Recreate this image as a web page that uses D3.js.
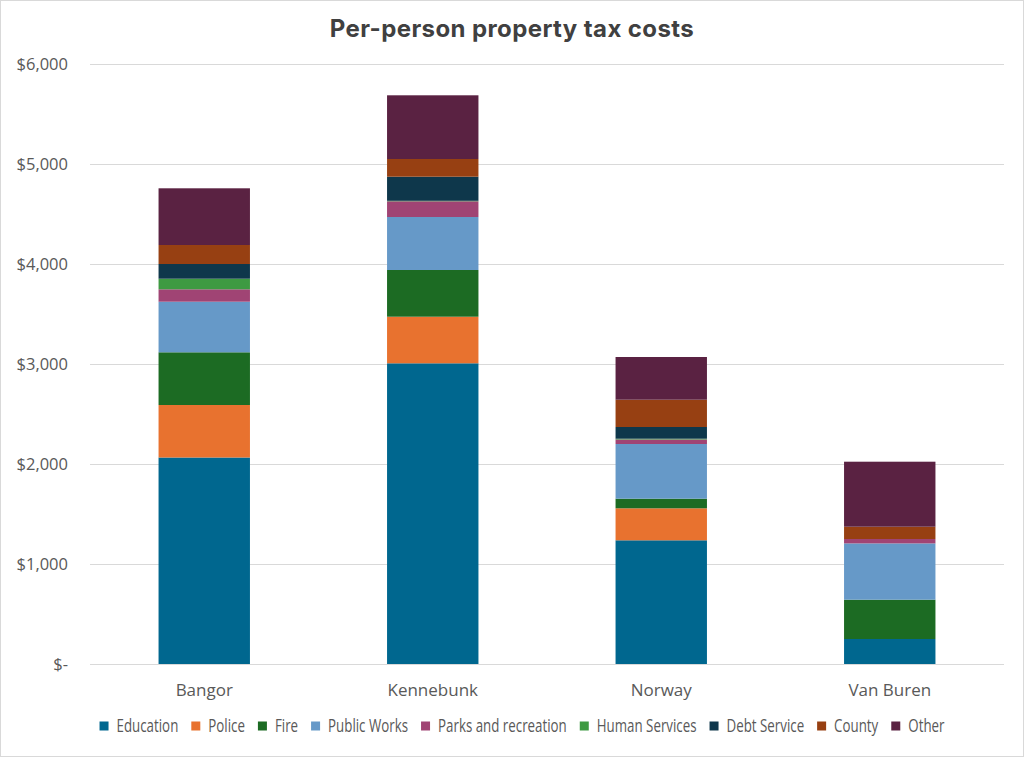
<!DOCTYPE html>
<html>
<head>
<meta charset="utf-8">
<script src="https://cdn.jsdelivr.net/npm/d3@7"></script>
<style>
  body { margin: 0; background: #fff; }
  svg { display: block; }
  .tick text { font-family: "Open Sans", sans-serif; }
</style>
</head>
<body>
<div id="chart"></div>
<script>
// data
const towns = ["Bangor", "Kennebunk", "Norway", "Van Buren"];
const categories = ["Education", "Police", "Fire", "Public Works", "Parks and recreation",
  "Human Services", "Debt Service", "County", "Other"];
const education = [2065, 3007, 1237, 250];
const police    = [525, 466, 320, 0];
const fire      = [527, 467, 96, 393];
const publicWorks = [506, 530, 547, 563];
const parks     = [124, 157, 45, 44];
const humanServices = [106, 5, 8, 0];
const debtService = [147, 241, 117, 0];
const county    = [190, 177, 273, 123];
const other     = [567, 637, 427, 650];
const yTicks = [0, 1000, 2000, 3000, 4000, 5000, 6000];
const colors = ["#00678f", "#e8722f", "#1c6b23", "#6699c8", "#a04474",
  "#3e9a42", "#0e374b", "#974012", "#5a2242"];

const series = [education, police, fire, publicWorks, parks, humanServices, debtService, county, other];

const W = 1024, H = 757;
const margin = {top: 64, right: 20, bottom: 93, left: 90};

const svg = d3.select("#chart").append("svg").attr("width", W).attr("height", H);

// outer border
svg.append("rect").attr("x", 0.5).attr("y", 0.5).attr("width", W - 1).attr("height", H - 1)
  .attr("fill", "#fff").attr("stroke", "#d9d9d9");

svg.append("text").attr("x", 512).attr("y", 37).attr("text-anchor", "middle")
  .attr("font-family", "Inter, 'Noto Sans', sans-serif").attr("font-weight", 700)
  .attr("font-size", 24).attr("letter-spacing", 0.4).attr("fill", "#404040")
  .text("Per-person property tax costs");

const x = d3.scaleBand().domain(towns).range([margin.left, W - margin.right]).paddingInner(0.6).paddingOuter(0.3);
const y = d3.scaleLinear().domain([0, 6000]).range([H - margin.bottom, margin.top]);

// gridlines
svg.append("g").selectAll("line").data(yTicks).join("line")
  .attr("x1", margin.left).attr("x2", W - margin.right)
  .attr("y1", d => y(d) + 0.5).attr("y2", d => y(d) + 0.5)
  .attr("stroke", "#d9d9d9").attr("stroke-width", 1);

const fmt = d => d === 0 ? "$-" : "$" + d3.format(",")(d);
const yAxis = svg.append("g").attr("transform", `translate(${margin.left - 19},0)`)
  .call(d3.axisLeft(y).tickValues(yTicks).tickFormat(fmt).tickSize(0));
yAxis.select(".domain").remove();
yAxis.selectAll("text").attr("font-size", 16.5).attr("fill", "#595959").attr("dx", 0);

const xAxis = svg.append("g").attr("transform", `translate(0,${y(0)})`)
  .call(d3.axisBottom(x).tickSize(0));
xAxis.select(".domain").remove();
xAxis.selectAll("text").attr("font-size", 17).attr("fill", "#595959").attr("dy", null).attr("y", 32);

// stacked bars
const rows = towns.map((t, i) => {
  const r = {town: t};
  categories.forEach((c, k) => r[c] = series[k][i]);
  return r;
});
const stacked = d3.stack().keys(categories)(rows);

svg.append("g").selectAll("g").data(stacked).join("g")
  .attr("fill", (d, i) => colors[i])
  .selectAll("rect").data(d => d).join("rect")
  .attr("x", d => x(d.data.town))
  .attr("width", x.bandwidth())
  .attr("y", d => y(d[1]))
  .attr("height", d => Math.max(0, y(d[0]) - y(d[1])));

// legend (narrow lettering like the original, squeezed horizontally)
const squeeze = 0.74;
const legend = svg.append("g").attr("font-family", "'Open Sans', sans-serif").attr("font-size", 18).attr("fill", "#595959");
const items = legend.selectAll("g").data(categories).join("g");
items.append("rect").attr("width", 9).attr("height", 9).attr("y", -4.5).attr("fill", (d, i) => colors[i]);
items.append("text").attr("transform", `translate(17,0) scale(${squeeze},1)`).attr("y", 6.3).text(d => d);
let widths = [];
items.each(function() {
  const t = d3.select(this).select("text").node();
  widths.push(17 + t.getComputedTextLength() * squeeze);
});
const gap = 13;
const total = d3.sum(widths) + gap * (widths.length - 1);
let cx = 522 - total / 2;
items.attr("transform", (d, i) => {
  const t = `translate(${cx},726)`;
  cx += widths[i] + gap;
  return t;
});
</script>
</body>
</html>
